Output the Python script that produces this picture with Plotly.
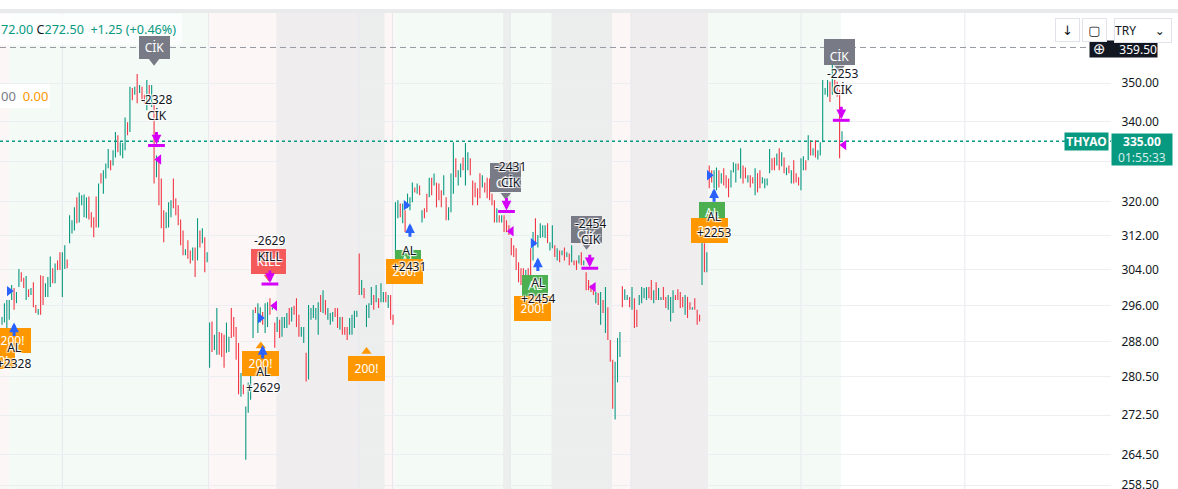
import math
import plotly.graph_objects as go

# ---------------- data ----------------
highs = [
    293.4, 296.5, 297.2, 297.2, 300.6, 299.9, 299.0, 304.2, 303.5, 302.2,
    302.6, 299.6, 299.9, 301.2, 296.1, 295.2, 302.8, 302.6, 301.0, 302.4,
    307.1, 304.4, 305.5, 306.2, 308.1, 308.1, 309.7, 306.4, 316.8, 315.6,
    318.7, 321.1, 322.3, 321.6, 321.8, 321.1, 321.3, 317.5, 316.3, 321.3,
    324.5, 327.0, 327.7, 329.4, 333.0, 330.2, 332.7, 337.3, 336.5, 334.7,
    334.5, 341.0, 339.8, 349.0, 348.7, 349.0, 352.4, 349.5, 349.0, 346.9,
    350.8, 349.5, 349.5, 344.7, 331.4, 330.2, 325.7, 318.0, 317.5, 319.9,
    320.4, 325.7, 320.9, 319.2, 315.8, 313.2, 308.8, 310.9, 308.5, 309.2,
    309.2, 316.1, 313.2, 313.7, 311.6, 308.1, 292.2, 292.4, 289.5, 295.4,
    290.1, 289.9, 289.5, 292.2, 289.1, 295.4, 293.4, 291.2, 287.7, 281.3,
    278.8, 274.3, 279.3, 282.0, 295.0, 295.6, 296.5, 295.6, 294.5, 296.5,
    296.7, 297.6, 295.6, 292.2, 293.4, 292.8, 293.4, 293.4, 294.3, 295.4,
    295.6, 295.9, 297.6, 293.9, 291.2, 291.2, 285.6, 296.1, 295.4, 296.1,
    295.4, 296.7, 298.3, 299.4, 297.2, 295.4, 294.3, 294.5, 295.4, 295.4,
    293.4, 293.4, 291.2, 291.2, 293.2, 293.9, 294.8, 294.8, 307.8, 301.7,
    299.9, 296.1, 296.5, 300.1, 298.3, 300.6, 297.6, 301.0, 299.0, 299.0,
    298.3, 298.3, 293.9, 319.9, 320.4, 319.6, 319.6, 318.0, 322.0, 321.1,
    324.7, 323.5, 324.5, 324.0, 318.0, 318.5, 322.0, 325.9, 325.9, 326.9,
    324.7, 324.5, 322.8, 326.5, 321.1, 318.7, 326.9, 334.7, 330.7, 327.7,
    329.4, 330.9, 334.5, 332.2, 330.7, 325.2, 324.7, 323.3, 327.0, 326.5,
    324.7, 325.9, 325.7, 322.0, 320.4, 318.5, 316.8, 316.8, 316.8, 315.6,
    314.4, 311.4, 309.7, 309.0, 305.8, 304.4, 304.4, 304.0, 304.4, 309.0,
    312.8, 316.1, 312.1, 314.9, 314.4, 314.4, 314.9, 310.4, 314.4, 309.7,
    309.0, 308.5, 308.5, 309.2, 308.1, 307.8, 309.7, 306.2, 306.2, 307.4,
    308.1, 306.2, 303.5, 301.7, 300.6, 299.4, 299.0, 298.8, 299.0, 297.2,
    300.1, 295.6, 288.4, 284.1, 283.7, 288.8, 290.1, 300.3, 299.6, 298.3,
    297.9, 300.1, 297.6, 295.0, 298.3, 300.1, 299.9, 300.1, 300.1, 301.7,
    299.4, 301.2, 299.9, 297.9, 300.1, 297.9, 298.3, 297.9, 299.4, 298.3,
    299.6, 299.0, 297.9, 298.3, 297.9, 296.7, 295.6, 297.6, 295.0, 293.9,
    310.9, 310.2, 308.1, 328.9, 327.7, 327.7, 328.4, 327.7, 327.0, 328.2,
    326.5, 325.7, 327.7, 329.7, 329.4, 329.4, 333.2, 328.9, 328.4, 326.5,
    326.5, 326.0, 328.2, 327.0, 327.7, 326.0, 325.7, 325.7, 333.0, 330.7,
    330.9, 331.9, 333.2, 332.2, 330.9, 328.4, 328.9, 327.7, 330.2, 327.0,
    326.0, 330.7, 331.2, 330.2, 336.5, 335.2, 333.2, 335.2, 332.7, 334.7,
    350.8, 348.7, 350.8, 350.3, 355.3, 350.8, 350.3, 348.2, 337.5,
]
lows = [
    291.7, 292.2, 290.6, 292.8, 297.2, 295.0, 296.5, 300.1, 301.3, 299.9,
    297.2, 297.9, 298.3, 295.6, 294.3, 293.9, 293.9, 296.1, 297.9, 297.9,
    300.1, 301.0, 301.0, 304.0, 304.0, 297.9, 304.2, 304.4, 310.2, 312.5,
    313.2, 314.9, 315.1, 319.2, 316.3, 316.1, 315.8, 313.9, 311.6, 313.9,
    313.9, 324.5, 322.0, 325.7, 328.2, 327.7, 328.9, 330.9, 332.2, 331.4,
    330.7, 332.7, 336.5, 337.3, 345.5, 346.9, 344.7, 347.4, 345.5, 344.7,
    342.9, 344.2, 343.7, 324.5, 326.0, 319.2, 313.7, 310.4, 313.7, 313.9,
    316.3, 318.5, 316.8, 314.4, 309.7, 307.4, 307.4, 306.6, 305.5, 306.2,
    302.4, 306.2, 309.2, 310.2, 303.5, 305.8, 282.4, 285.8, 286.2, 285.2,
    285.2, 284.7, 282.4, 285.6, 285.8, 288.8, 289.1, 284.1, 276.8, 276.3,
    276.8, 263.5, 273.0, 275.7, 288.8, 294.3, 289.9, 292.2, 291.7, 289.9,
    291.2, 293.9, 295.0, 286.7, 290.1, 288.8, 289.1, 291.0, 291.0, 291.7,
    292.4, 293.9, 291.2, 289.1, 289.1, 287.7, 279.5, 279.9, 292.8, 293.2,
    292.8, 289.5, 294.5, 294.3, 293.9, 292.8, 291.7, 292.4, 293.4, 291.0,
    290.6, 289.5, 289.5, 288.4, 289.5, 289.5, 291.0, 293.4, 298.3, 298.3,
    297.6, 291.2, 293.2, 296.1, 295.0, 296.7, 295.4, 296.7, 296.7, 296.7,
    295.4, 292.8, 291.7, 306.6, 316.1, 316.3, 314.9, 312.8, 318.5, 318.0,
    319.9, 322.3, 322.0, 321.6, 315.1, 316.1, 317.5, 321.1, 321.6, 324.0,
    318.7, 320.4, 318.7, 321.6, 315.6, 315.6, 317.5, 322.0, 326.0, 324.0,
    326.0, 327.7, 324.0, 327.7, 326.5, 319.2, 321.1, 319.2, 320.9, 323.5,
    322.3, 320.9, 320.4, 319.2, 315.1, 315.1, 315.1, 315.1, 312.8, 312.8,
    312.1, 307.4, 307.0, 304.0, 301.2, 300.6, 302.8, 300.6, 299.4, 299.4,
    306.2, 309.7, 309.2, 311.4, 311.6, 311.4, 310.2, 308.5, 309.0, 307.0,
    306.2, 305.8, 307.4, 306.2, 307.0, 305.1, 305.8, 305.1, 304.0, 305.5,
    305.1, 305.1, 299.4, 299.4, 299.0, 298.3, 296.5, 296.1, 291.7, 294.3,
    289.9, 288.4, 283.7, 273.8, 271.6, 279.3, 284.7, 295.6, 297.2, 297.2,
    295.6, 295.0, 291.0, 291.2, 296.1, 296.5, 297.6, 297.2, 297.6, 297.2,
    296.5, 297.2, 297.2, 297.2, 297.2, 295.4, 295.0, 292.4, 294.3, 297.2,
    297.2, 295.4, 295.6, 293.9, 293.2, 295.0, 295.0, 295.0, 291.7, 292.4,
    300.6, 303.5, 303.5, 323.3, 324.7, 323.3, 322.8, 323.5, 324.5, 324.0,
    323.3, 321.1, 323.5, 327.2, 324.7, 327.7, 325.7, 324.5, 325.7, 324.7,
    323.5, 324.5, 321.6, 322.3, 323.3, 324.5, 323.3, 324.0, 327.0, 327.7,
    327.7, 328.9, 327.7, 328.7, 327.0, 326.5, 327.0, 324.5, 324.5, 324.7,
    324.0, 322.8, 327.7, 327.7, 330.2, 331.4, 331.4, 330.9, 330.4, 331.4,
    334.7, 346.9, 346.4, 345.0, 346.9, 348.7, 346.4, 330.7, 335.2,
]
# G = up bar, R = down bar
dirs = (
    "GGGGGRGGRR GRGRRGRRGG GRGRRGGRGG GRGGGGRRRR GRGGGRGGRG "
    "GGRGRGRGRR GRGRGRRRGG GRRRRRGRRG RGRGRGGRGG RRRGGRRRRG "
    "RGGGGRGGRG GRGRGRGGGR GRRRGGRGGG GGRGRGGGRR GRRRGGGGRG "
    "RGGGRGRGGR GRRGGRGRGG GRGRGRRGRG RRRGRGGGRG GRGGRRRRRG "
    "RRRRRGRGRR RRRRRRRGRR GRGGGGRGGR GRGRGRGRRG RGRRRRGRGR "
    "GRRRGGGRGG RGRRGGGGRR GRGGRRGGGR RRRGRRGRRR GRGRRGGRGR "
    "RRGGGRGRRG RRGRRGGGGR RGRGRGRGRR RGGRGRGRGG GGGRGRRRG"
).replace(" ", "")

tick_vals = [258.5, 264.5, 272.5, 280.5, 288.0, 296.0, 304.0, 312.0, 320.0, 330.0, 340.0, 350.0]
tick_text = ["%.2f" % v for v in tick_vals]

last_price = 335.00
marked_high = 359.50

# session backgrounds: (start bar, end bar, colour)
bands = [
    (-0.9, 3.0, "#fdf6f6"), (3.0, 85.6, "#f4faf6"), (85.6, 113.6, "#fdf6f6"),
    (113.6, 147.6, "#f0edee"), (147.6, 158.6, "#eceeed"), (158.6, 162.6, "#fdf6f6"),
    (162.6, 207.6, "#f4faf6"), (207.6, 210.6, "#eceeed"), (210.6, 227.6, "#f4faf6"),
    (227.6, 252.8, "#eceeed"), (252.8, 260.6, "#fdf6f6"), (260.6, 292.6, "#f0edee"),
    (292.6, 347.6, "#f4faf6"),
]
vgrid = [25.0, 85.6, 147.6, 161.8, 210.6, 260.6, 331.0, 398.9]

# signals: (bar, price)
buy_arrows = [(5, 292.2), (108, 287.3), (169, 314.9), (222, 306.9), (295, 323.3)]
sell_arrows = [(64, 333.9), (111, 300.8), (209, 317.7), (243.5, 304.4), (347.7, 340.3)]
entry_marks = [(3, 299.2), (107, 293.2), (167.4, 319.2), (220, 310.2), (293, 326.5)]
exit_marks = [(65, 330.4), (113, 295.9), (211, 313.0), (245, 300.1), (348.8, 334.0)]
orange_labels = [(4.5, 288.2), (107.2, 283.4), (151, 282.2), (166.6, 303.6), (219.8, 295.2), (293, 313.2)]
orange_ptrs = [(107.2, 287.1), (151, 285.9)]
green_labels = [(168, 306.2), (221, 300.4), (294, 317.5)]
grey_labels = [(63, 359.6, 23), (208.7, 326.0, 29), (242.2, 313.5, 27), (347, 358.3, 26)]
grey_ptrs = [(63, 355.8), (208.7, 321.6), (242.2, 309.7), (347, 354.0)]
kill_label = (110.5, 305.9)
kill_ptr = (110.5, 302.4)
note_texts = [
    (64, 343.6, "-2328<br>CİK"), (111, 309.0, "-2629<br>KILL"),
    (5, 285.0, "AL<br>+2328"), (108, 279.9, "AL<br>+2629"),
    (168.5, 306.6, "AL<br>+2431"), (222, 299.4, "AL<br>+2454"),
    (295, 314.6, "AL<br>+2253"), (210.5, 326.7, "-2431<br>CİK"),
    (244, 313.0, "-2454<br>CİK"), (348, 350.3, "-2253<br>CİK"),
]

# ---------------- figure ----------------
FONT = "Noto Sans, DejaVu Sans, sans-serif"
UP, DOWN = "#089981", "#f23645"
MAG, BLUE = "#d500f9", "#2962ff"
ORANGE, GREEN, GREY, KRED = "#ff9800", "#4caf50", "#787b86", "#f55a5a"

W, H = 1178, 489
ML, MR, MT, MB = 0, 67, 13, 0
PW, PH = W - ML - MR, H - MT - MB
X0 = -0.829
X1 = X0 + PW / 2.4138
Y0, Y1 = 2.411195, 2.566977


def px2paper_x(px):
    return (px - ML) / PW


def py2paper(py):
    return (H - MB - py) / PH


L10 = math.log10
idx = list(range(len(highs)))
opens = [l if d == "G" else h for h, l, d in zip(highs, lows, dirs)]
closes = [h if d == "G" else l for h, l, d in zip(highs, lows, dirs)]

fig = go.Figure()

fig.add_trace(go.Scatter(x=[X0, X1], y=[last_price, last_price], mode="lines",
                         line=dict(color=UP, width=1.5, dash="dot"), hoverinfo="skip"))
fig.add_trace(go.Scatter(x=[X0, X1], y=[marked_high, marked_high], mode="lines",
                         line=dict(color="#9598a1", width=1, dash="6px,4px"), hoverinfo="skip"))

fig.add_trace(go.Ohlc(x=idx, open=opens, high=highs, low=lows, close=closes,
                      increasing=dict(line=dict(color=UP, width=1.1)),
                      decreasing=dict(line=dict(color=DOWN, width=1.1)),
                      tickwidth=0, hoverinfo="skip"))

# small markers
fig.add_trace(go.Scatter(x=[a for a, b in entry_marks], y=[b for a, b in entry_marks], mode="markers",
                         marker=dict(symbol="triangle-right", size=9, color=BLUE), hoverinfo="skip"))
fig.add_trace(go.Scatter(x=[a for a, b in exit_marks], y=[b for a, b in exit_marks], mode="markers",
                         marker=dict(symbol="triangle-left", size=9, color=MAG), hoverinfo="skip"))
fig.add_trace(go.Scatter(x=[a for a, b in sell_arrows], y=[b for a, b in sell_arrows], mode="markers",
                         marker=dict(symbol="line-ew", size=12, line=dict(color=MAG, width=3)), hoverinfo="skip"))
fig.add_trace(go.Scatter(x=[a for a, b in grey_ptrs], y=[b for a, b in grey_ptrs], mode="markers",
                         marker=dict(symbol="triangle-down", size=9, color=GREY), hoverinfo="skip"))
fig.add_trace(go.Scatter(x=[a for a, b in orange_ptrs], y=[b for a, b in orange_ptrs], mode="markers",
                         marker=dict(symbol="triangle-up", size=9, color=ORANGE), hoverinfo="skip"))
fig.add_trace(go.Scatter(x=[kill_ptr[0]], y=[kill_ptr[1]], mode="markers",
                         marker=dict(symbol="triangle-down", size=9, color=KRED), hoverinfo="skip"))

shapes = []
for a, b, c in bands:
    shapes.append(dict(type="rect", xref="x", yref="paper", x0=a, x1=b, y0=0, y1=1,
                       fillcolor=c, line=dict(width=0), layer="below"))
for v in vgrid:
    shapes.append(dict(type="line", xref="x", yref="paper", x0=v, x1=v, y0=0, y1=1,
                       line=dict(color="#e6e8ec", width=1), layer="below"))
# top strip
shapes.append(dict(type="rect", xref="paper", yref="paper", x0=-0.01, x1=1.1, y0=1.0, y1=py2paper(9),
                   fillcolor="#e9eaec", line=dict(width=0)))
# legend backdrops
shapes.append(dict(type="rect", xref="paper", yref="paper", x0=0, x1=px2paper_x(182),
                   y0=py2paper(45), y1=py2paper(14), fillcolor="rgba(255,255,255,0.75)", line=dict(width=0)))
shapes.append(dict(type="rect", xref="paper", yref="paper", x0=0, x1=px2paper_x(50),
                   y0=py2paper(108), y1=py2paper(84), fillcolor="rgba(255,255,255,0.85)", line=dict(width=0)))

ann = []


def box(x, p, text, bg, w, h, fc="white", valign="middle", xanchor="center", size=12):
    ann.append(dict(x=x, y=L10(p), xref="x", yref="y", text=text, showarrow=False,
                    bgcolor=bg, width=w, height=h, borderpad=0, borderwidth=0,
                    font=dict(family=FONT, size=size, color=fc), valign=valign,
                    xanchor=xanchor, yanchor="middle"))


for x, p in green_labels:
    box(x, p, "AL", GREEN, 26, 21)
box(5.4, 283.9, "200!", ORANGE, 37, 17, xanchor="right")
for x, p in orange_labels:
    box(x, p, "200!", ORANGE, 37, 25)
for x, p, h in grey_labels:
    box(x, p, "CİK", GREY, 31, h, valign="bottom" if h > 24 else "middle")
box(kill_label[0], kill_label[1], "KILL", KRED, 35, 25)

halo = "1px 1px 1px white, -1px -1px 1px white, 1px -1px 1px white, -1px 1px 1px white"
for x, p, t in note_texts:
    ann.append(dict(x=x, y=L10(p), xref="x", yref="y", text=t, showarrow=False,
                    font=dict(family=FONT, size=12, color="#131722", shadow=halo),
                    xanchor="center", yanchor="middle"))

for x, p in buy_arrows:
    ann.append(dict(x=x, y=L10(p), xref="x", yref="y", text="", showarrow=True, ax=0, ay=15,
                    arrowhead=2, arrowsize=0.65, arrowwidth=3, arrowcolor=BLUE, standoff=0))
for x, p in sell_arrows:
    ann.append(dict(x=x, y=L10(p), xref="x", yref="y", text="", showarrow=True, ax=0, ay=-15,
                    arrowhead=2, arrowsize=0.65, arrowwidth=3, arrowcolor=MAG, standoff=1))

# legend texts top-left
ann.append(dict(xref="paper", yref="paper", x=0, y=py2paper(30), xanchor="left", yanchor="middle",
                text="<span style='color:#089981'>72.00</span> C<span style='color:#089981'>272.50  +1.25 (+0.46%)</span>",
                showarrow=False, font=dict(family=FONT, size=12.6, color="#131722"), borderpad=0))
ann.append(dict(xref="paper", yref="paper", x=0, y=py2paper(96), xanchor="left", yanchor="middle",
                text="<span style='color:#787b86'>00</span>  <span style='color:#ff9800'>0.00</span>",
                showarrow=False, font=dict(family=FONT, size=13), borderpad=0))

# right side price labels
ann.append(dict(xref="paper", yref="y", x=px2paper_x(1109), y=L10(last_price), xanchor="right",
                yanchor="middle", text="<b>THYAO</b>", showarrow=False, bgcolor=UP, width=43, height=17,
                borderpad=0, font=dict(family=FONT, size=12, color="white")))
ann.append(dict(xref="paper", yref="paper", x=px2paper_x(1111), y=py2paper(149.5), xanchor="left",
                yanchor="middle", text="<b>335.00</b><br><span style='color:#d6efe9'>01:55:33</span>",
                showarrow=False, bgcolor=UP, width=60, height=31, borderpad=0,
                font=dict(family=FONT, size=12, color="white")))
ann.append(dict(xref="paper", yref="paper", x=px2paper_x(1089), y=py2paper(49), xanchor="left",
                yanchor="middle", text="359.50", align="right", showarrow=False, bgcolor="#131722",
                width=67, height=16, borderpad=0, font=dict(family=FONT, size=12, color="white")))
ann.append(dict(xref="paper", yref="paper", x=px2paper_x(1099), y=py2paper(49), xanchor="center",
                yanchor="middle", text="⊕", showarrow=False,
                font=dict(family="DejaVu Sans", size=15, color="white")))

# toolbar buttons
for cx, w, t in [(1067.5, 23, "↓"), (1094.5, 23, "▢")]:
    ann.append(dict(xref="paper", yref="paper", x=px2paper_x(cx), y=py2paper(30), xanchor="center",
                    yanchor="middle", text=t, showarrow=False, bgcolor="white", bordercolor="#e0e3eb",
                    borderwidth=1, width=w, height=22, borderpad=0,
                    font=dict(family="DejaVu Sans", size=13, color="#131722")))
ann.append(dict(xref="paper", yref="paper", x=px2paper_x(1143), y=py2paper(30.5), xanchor="center",
                yanchor="middle", text="TRY&nbsp;&nbsp;&nbsp;&nbsp;&nbsp;&nbsp;⌄", align="left",
                showarrow=False, bgcolor="white", bordercolor="#e0e3eb", borderwidth=1, width=56,
                height=23, borderpad=0, font=dict(family=FONT, size=12, color="#131722")))

fig.update_layout(
    width=W, height=H,
    margin=dict(l=ML, r=MR, t=MT, b=MB),
    paper_bgcolor="white", plot_bgcolor="white",
    showlegend=False,
    shapes=shapes, annotations=ann,
    font=dict(family=FONT, size=12, color="#131722"),
    xaxis=dict(range=[X0, X1], showgrid=False, zeroline=False, showticklabels=False,
               rangeslider=dict(visible=False), showline=False, ticks="", automargin=False),
    yaxis=dict(type="log", range=[Y0, Y1], side="right", tickvals=tick_vals, ticktext=tick_text,
               showgrid=True, gridcolor="#eceef1", zeroline=False, showline=False, automargin=False,
               ticks="outside", ticklen=7, tickcolor="rgba(0,0,0,0)", ticklabeloverflow="allow",
               tickfont=dict(family=FONT, size=12, color="#131722")),
)

fig.write_html("out.html", config={"displayModeBar": False})
